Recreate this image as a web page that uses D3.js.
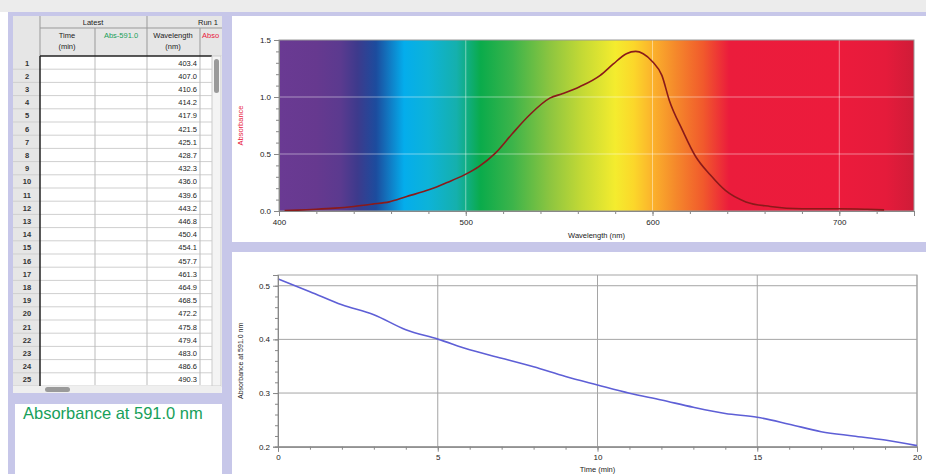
<!DOCTYPE html>
<html><head><meta charset="utf-8">
<script src="https://cdn.jsdelivr.net/npm/d3@7"></script>
<style>
html,body{margin:0;padding:0;background:#fff;}
svg{display:block;font-family:"Liberation Sans",Arial,sans-serif;}
</style></head>
<body>
<svg id="c" width="926" height="474"></svg>
<script>
// ---------- data ----------
const rowNumbers = d3.range(1, 26);
const tableWavelengths = [403.4,407.0,410.6,414.2,417.9,421.5,425.1,428.7,432.3,436.0,439.6,443.2,446.8,450.4,454.1,457.7,461.3,464.9,468.5,472.2,475.8,479.4,483.0,486.6,490.3];

const spectrumWavelength = [403,410,420,430,440,450,459,468,481,490,499,507,516,525,534,545,552,561,572,579,586,591,595,600,605,609,616,623,631,639,650,663,680,700,715,724];
const spectrumAbsorbance = [0.005,0.008,0.015,0.025,0.04,0.06,0.08,0.125,0.19,0.25,0.315,0.39,0.51,0.68,0.84,0.99,1.03,1.09,1.19,1.29,1.38,1.40,1.38,1.31,1.19,0.97,0.71,0.48,0.315,0.18,0.08,0.04,0.02,0.02,0.015,0.01];

const spectrumStopsNm = [400,420,433,442,452,467,480,495,508,525,545,562,580,590,600,612,627,641,700,725,740];
const spectrumStopsColor = ["#6a3a93","#66398f","#5b3a8f","#3d3a8c","#1c4c9e","#04adec","#0db3d8","#15b0ad","#0aab4b","#3cb44a","#8cc540","#c3d935","#f4ec2e","#fbd72a","#fbb22c","#f58a2b","#f15a2c","#eb1c3c","#ec1b3c","#e51b3b","#cf1c38"];

const timeMin = d3.range(0, 21);
const absorbance591 = [0.5125,0.489,0.4645,0.446,0.418,0.4005,0.3805,0.365,0.349,0.3307,0.315,0.2997,0.287,0.2735,0.262,0.255,0.242,0.228,0.22,0.2125,0.202];

const wlMajorTicks = [400,500,600,700];
const absMajorTicks = [0,0.5,1.0,1.5];
const timeMajorTicks = [0,5,10,15,20];
const abs591Ticks = [0.2,0.3,0.4,0.5];

// ---------- layout ----------
const svg = d3.select("#c");
const lav = "#c7c7e9";
svg.append("rect").attr("width",926).attr("height",474).attr("fill","#fff");
svg.append("rect").attr("width",926).attr("height",12).attr("fill","#ececec");
svg.append("rect").attr("x",8).attr("y",12).attr("width",918).attr("height",462).attr("fill",lav);
svg.append("rect").attr("x",13).attr("y",16).attr("width",209).attr("height",377).attr("fill","#f2f2f2");
svg.append("rect").attr("x",15).attr("y",404).attr("width",207).attr("height",70).attr("fill","#fff");
svg.append("rect").attr("x",232).attr("y",16).attr("width",694).attr("height",226).attr("fill","#fff");
svg.append("rect").attr("x",232).attr("y",252).attr("width",694).attr("height",222).attr("fill","#fff");

// ---------- table ----------
const T = svg.append("g").attr("font-size",7.5).attr("fill","#222");
const hdrTop = 16, hdrMid = 28, dataTop = 56, rowH = 13.2;
T.append("rect").attr("x",13).attr("y",hdrTop).attr("width",209).attr("height",dataTop-hdrTop).attr("fill","#e6e6e6");
T.append("rect").attr("x",13).attr("y",dataTop).attr("width",27).attr("height",330).attr("fill","#e6e6e6");
T.append("rect").attr("x",40).attr("y",dataTop).attr("width",182).attr("height",330).attr("fill","#fff");
[[40,hdrTop,40,dataTop],[147,hdrTop,147,dataTop],[40,hdrMid,222,hdrMid],[95,hdrMid,95,dataTop],[200,hdrMid,200,dataTop]].forEach(l=>
  T.append("line").attr("x1",l[0]).attr("y1",l[1]).attr("x2",l[2]).attr("y2",l[3]).attr("stroke","#999"));
T.append("text").attr("x",93).attr("y",25).attr("text-anchor","middle").text("Latest");
T.append("text").attr("x",218).attr("y",25).attr("text-anchor","end").text("Run 1");
T.append("text").attr("x",67).attr("y",38).attr("text-anchor","middle").text("Time");
T.append("text").attr("x",67).attr("y",49).attr("text-anchor","middle").text("(min)");
T.append("text").attr("x",121).attr("y",38).attr("text-anchor","middle").attr("fill","#1aa05a").text("Abs-591.0");
T.append("text").attr("x",173).attr("y",38).attr("text-anchor","middle").text("Wavelength");
T.append("text").attr("x",173).attr("y",49).attr("text-anchor","middle").text("(nm)");
T.append("text").attr("x",202).attr("y",38).attr("fill","#e8203c").text("Abso");
rowNumbers.forEach((n,i)=>{
  const y = dataTop + i*rowH;
  T.append("line").attr("x1",13).attr("x2",212).attr("y1",y+rowH).attr("y2",y+rowH).attr("stroke","#cfcfcf");
  T.append("text").attr("x",27).attr("y",y+rowH/2+3).attr("text-anchor","middle").attr("font-weight","bold").attr("fill","#333").text(n);
  T.append("text").attr("x",197).attr("y",y+rowH/2+3).attr("text-anchor","end").text(tableWavelengths[i].toFixed(1));
});
[95,147,200].forEach(x=>T.append("line").attr("x1",x).attr("x2",x).attr("y1",dataTop).attr("y2",385).attr("stroke","#bbb"));
T.append("line").attr("x1",40).attr("x2",40).attr("y1",dataTop).attr("y2",386).attr("stroke","#222").attr("stroke-width",1.5);
T.append("line").attr("x1",40).attr("x2",212).attr("y1",dataTop).attr("y2",dataTop).attr("stroke","#222").attr("stroke-width",1.5);
T.append("rect").attr("x",212).attr("y",dataTop).attr("width",9).attr("height",330).attr("fill","#f4f4f4").attr("stroke","#ccc");
T.append("rect").attr("x",214).attr("y",59).attr("width",5).attr("height",34).attr("rx",2.5).attr("fill","#9a9a9a");
T.append("rect").attr("x",13).attr("y",386).attr("width",208).attr("height",7).attr("fill","#efefef");
T.append("rect").attr("x",45).attr("y",387).attr("width",25).attr("height",5).attr("rx",2.5).attr("fill","#9a9a9a");

svg.append("text").attr("x",23).attr("y",419).attr("font-size",16.5).attr("fill","#17a05a").text("Absorbance at 591.0 nm");

// ---------- spectrum chart ----------
const xW = d3.scaleLinear([400,740],[279,914]);
const yA = d3.scaleLinear([0,1.5],[211,40]);
const defs = svg.append("defs");
const grad = defs.append("linearGradient").attr("id","spec").attr("gradientUnits","userSpaceOnUse")
  .attr("x1",xW(400)).attr("x2",xW(740)).attr("y1",0).attr("y2",0);
spectrumStopsNm.forEach((nm,i)=>grad.append("stop").attr("offset",(xW(nm)-xW(400))/(xW(740)-xW(400))).attr("stop-color",spectrumStopsColor[i]));
const S = svg.append("g");
S.append("rect").attr("x",xW(400)).attr("y",yA(1.5)).attr("width",xW(740)-xW(400)).attr("height",yA(0)-yA(1.5)).attr("fill","url(#spec)");
absMajorTicks.slice(1,3).forEach(v=>S.append("line").attr("x1",xW(400)).attr("x2",xW(740)).attr("y1",yA(v)).attr("y2",yA(v)).attr("stroke","#fff").attr("stroke-opacity",0.45));
wlMajorTicks.slice(1).forEach(v=>S.append("line").attr("x1",xW(v)).attr("x2",xW(v)).attr("y1",yA(0)).attr("y2",yA(1.5)).attr("stroke","#fff").attr("stroke-opacity",0.45));
S.append("rect").attr("x",xW(400)).attr("y",yA(1.5)).attr("width",xW(740)-xW(400)).attr("height",yA(0)-yA(1.5)).attr("fill","none").attr("stroke","#9a9a9a");
const spec = spectrumWavelength.map((w,i)=>[w,spectrumAbsorbance[i]]);
S.append("path").datum(spec).attr("fill","none").attr("stroke","#8a1a1a").attr("stroke-width",1.6)
  .attr("d",d3.line().x(d=>xW(d[0])).y(d=>yA(d[1])).curve(d3.curveMonotoneX));
const yAx = svg.append("g").attr("transform",`translate(${xW(400)},0)`)
  .call(d3.axisLeft(yA).tickValues(d3.range(0,1.51,0.1)).tickSize(3).tickFormat(""));
const yAx2 = svg.append("g").attr("transform",`translate(${xW(400)},0)`)
  .call(d3.axisLeft(yA).tickValues(absMajorTicks).tickSize(5).tickFormat(d3.format(".1f")));
const xAx = svg.append("g").attr("transform",`translate(0,${yA(0)})`)
  .call(d3.axisBottom(xW).tickValues(d3.range(400,741,20)).tickSize(3).tickFormat(""));
const xAx2 = svg.append("g").attr("transform",`translate(0,${yA(0)})`)
  .call(d3.axisBottom(xW).tickValues(wlMajorTicks).tickSize(5).tickPadding(3).tickFormat(d3.format("d")));
[yAx,yAx2,xAx,xAx2].forEach(g=>{g.select(".domain").attr("stroke","#888");g.selectAll("line").attr("stroke","#888");
  g.selectAll("text").attr("font-size",8).attr("fill","#222").attr("font-family","Liberation Sans, Arial");});
svg.append("text").attr("transform",`translate(243,${(yA(0)+yA(1.5))/2}) rotate(-90)`).attr("text-anchor","middle")
  .attr("font-size",7.5).attr("fill","#e8203c").text("Absorbance");
svg.append("text").attr("x",(xW(400)+xW(740))/2).attr("y",238).attr("text-anchor","middle").attr("font-size",7.5).attr("fill","#222").text("Wavelength (nm)");

// ---------- kinetics chart ----------
const xT = d3.scaleLinear([0,20],[278,917]);
const yT = d3.scaleLinear([0.2,0.52],[446.7,275]);
const K = svg.append("g");
timeMajorTicks.slice(1).forEach(v=>K.append("line").attr("x1",xT(v)).attr("x2",xT(v)).attr("y1",yT(0.2)).attr("y2",yT(0.52)).attr("stroke","#a5a5a5"));
abs591Ticks.slice(1).forEach(v=>K.append("line").attr("x1",xT(0)).attr("x2",xT(20)).attr("y1",yT(v)).attr("y2",yT(v)).attr("stroke","#a5a5a5"));
K.append("rect").attr("x",xT(0)).attr("y",yT(0.52)).attr("width",xT(20)-xT(0)).attr("height",yT(0.2)-yT(0.52)).attr("fill","none").attr("stroke","#a5a5a5");
K.append("path").datum(timeMin.map((t,i)=>[t,absorbance591[i]])).attr("fill","none").attr("stroke","#5e5fd6").attr("stroke-width",1.6)
  .attr("d",d3.line().x(d=>xT(d[0])).y(d=>yT(d[1])).curve(d3.curveMonotoneX));
const kY = svg.append("g").attr("transform",`translate(${xT(0)},0)`)
  .call(d3.axisLeft(yT).tickValues(d3.range(0.2,0.521,0.02)).tickSize(3).tickFormat(""));
const kY2 = svg.append("g").attr("transform",`translate(${xT(0)},0)`)
  .call(d3.axisLeft(yT).tickValues(abs591Ticks).tickSize(5).tickFormat(d3.format(".1f")));
const kX = svg.append("g").attr("transform",`translate(0,${yT(0.2)})`)
  .call(d3.axisBottom(xT).tickValues(d3.range(0,21,1)).tickSize(3).tickFormat(""));
const kX2 = svg.append("g").attr("transform",`translate(0,${yT(0.2)})`)
  .call(d3.axisBottom(xT).tickValues(timeMajorTicks).tickSize(5).tickPadding(3).tickFormat(d3.format("d")));
[kY,kY2,kX,kX2].forEach(g=>{g.select(".domain").attr("stroke","#888");g.selectAll("line").attr("stroke","#888");
  g.selectAll("text").attr("font-size",8).attr("fill","#222").attr("font-family","Liberation Sans, Arial");});
svg.append("text").attr("transform",`translate(243,${(yT(0.2)+yT(0.52))/2}) rotate(-90)`).attr("text-anchor","middle")
  .attr("font-size",7).attr("fill","#222").text("Absorbance at 591.0 nm");
svg.append("text").attr("x",(xT(0)+xT(20))/2).attr("y",472).attr("text-anchor","middle").attr("font-size",7.5).attr("fill","#222").text("Time (min)");
</script>
</body></html>
